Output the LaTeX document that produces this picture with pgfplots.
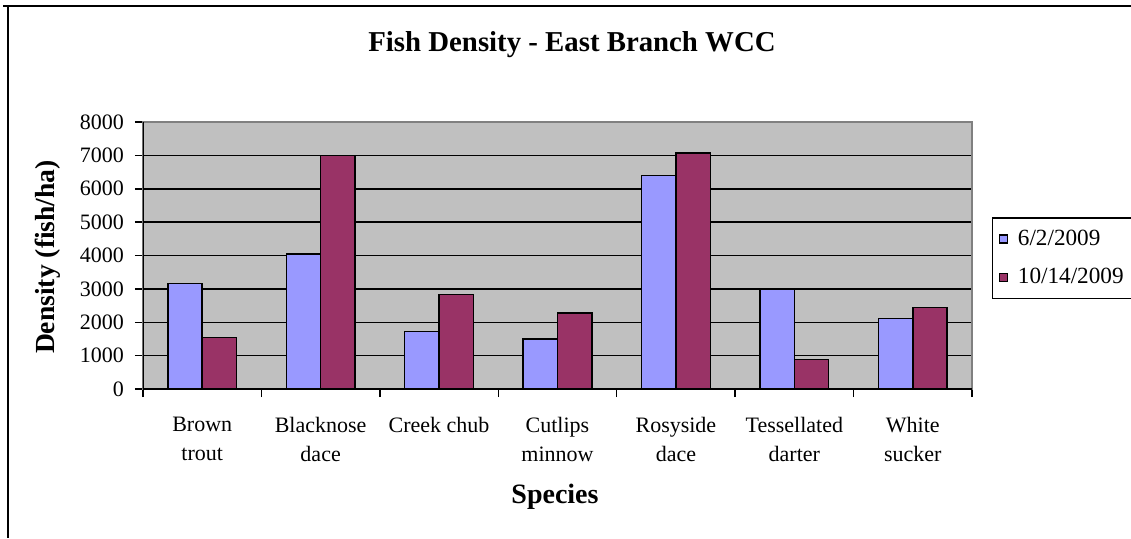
\documentclass[border=0pt]{standalone}
\usepackage{fontspec}
\setmainfont{Liberation Serif}
\usepackage{pgfplots}
\pgfplotsset{compat=1.18}
\definecolor{barblue}{HTML}{9999FF}
\definecolor{barmaroon}{HTML}{993366}
\definecolor{plotbg}{HTML}{C0C0C0}
\begin{document}
\begin{tikzpicture}
\useasboundingbox (0,0) rectangle (565.5pt,269pt);
\draw[line width=1pt] (1.5pt,266pt) -- (565.5pt,266pt);
\draw[line width=1pt] (3.75pt,266pt) -- (3.75pt,0pt);
\begin{axis}[
  at={(71.5pt,74.5pt)}, anchor=south west,
  scale only axis, width=414.5pt, height=133.5pt,
  xmin=-0.5, xmax=6.5, ymin=0, ymax=8000,
  ybar, bar width=0.29,
  axis background/.style={fill=plotbg},
  axis line style={draw=black!50, line width=0.75pt},
  ymajorgrids, grid style={black, line width=0.75pt},
  ytick={0,1000,...,8000},
  xtick={-0.5,0.5,...,6.5}, xticklabels={},
  extra x ticks={0,1,2,3,4,5,6},
  extra x tick labels={Brown\\trout, Blacknose\\dace, Creek chub, Cutlips\\minnow, Rosyside\\dace, Tessellated\\darter, White\\sucker},
  extra x tick style={major tick length=0pt, grid=none,
    xticklabel style={align=center, font=\fontsize{11}{14.5}\selectfont, yshift=-10.5pt, anchor=north}},
  xtick pos=bottom, ytick pos=left, tick align=outside,
  tick style={black, line width=0.75pt},
  major tick length=4pt,
  /pgf/number format/assume math mode=true,
  /pgf/number format/set thousands separator={},
  yticklabel style={font=\fontsize{11}{13}\selectfont, xshift=-2pt},
  legend style={at={(1.0241,0.644)}, anchor=north west, draw=black, line width=0.75pt,
    font=\fontsize{11.6}{13}\selectfont, inner xsep=3pt, inner ysep=4pt, row sep=6pt,
    cells={anchor=west}, /tikz/every odd column/.style={column sep=3pt}},
  legend image code/.code={\draw[#1, line width=0.6pt] (0pt,-2pt) rectangle (4pt,2pt);},
]
\addplot[fill=barblue, draw=black, line width=0.75pt, bar shift=-0.145] coordinates {(0,3160) (1,4050) (2,1730) (3,1500) (4,6390) (5,2990) (6,2110)};
\addlegendentry{6/2/2009}
\addplot[fill=barmaroon, draw=black, line width=0.75pt, bar shift=0.145] coordinates {(0,1550) (1,7000) (2,2830) (3,2280) (4,7070) (5,880) (6,2440)};
\addlegendentry{10/14/2009}
\draw[black, line width=0.75pt] (rel axis cs:0,0) -- (rel axis cs:0,1);
\draw[black, line width=0.75pt] (rel axis cs:0,0) -- (rel axis cs:1,0);
\end{axis}
\node[font=\bfseries\fontsize{14.4}{16}\selectfont] at (286pt,246.5pt) {Fish Density - East Branch WCC};
\node[font=\bfseries\fontsize{13.8}{15}\selectfont, rotate=90] at (24pt,140.5pt) {Density (fish/ha)};
\node[font=\bfseries\fontsize{14}{16}\selectfont] at (277.5pt,20.5pt) {Species};
\end{tikzpicture}
\end{document}
